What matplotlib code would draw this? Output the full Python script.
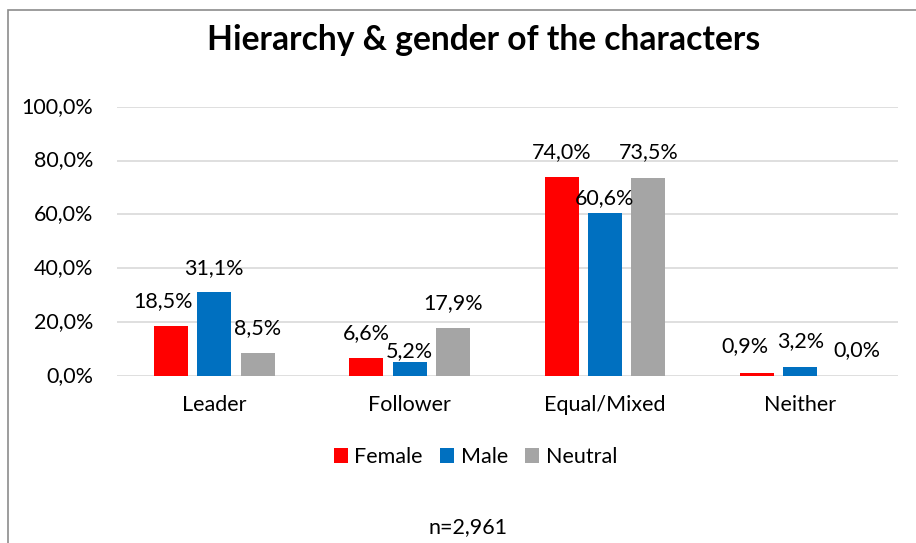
import matplotlib
matplotlib.use("Agg")
import matplotlib.pyplot as plt
import numpy as np
from matplotlib.patches import Rectangle, Patch

categories = ["Leader", "Follower", "Equal/Mixed", "Neither"]
series_names = ["Female", "Male", "Neutral"]
female = [18.5, 6.6, 74.0, 0.9]
male = [31.1, 5.2, 60.6, 3.2]
neutral = [8.5, 17.9, 73.5, 0.0]
yticks = [0, 20, 40, 60, 80, 100]
title = "Hierarchy & gender of the characters"
note = "n=2,961"

colors = ["#FF0000", "#0070C0", "#A5A5A5"]
# label offsets (pixels) from the top-centre of each bar
label_offsets = [
    [(-8, 24.5), (0, 24.5), (0, 24.5), (-12, 27)],
    [(-1, 24), (0, 11), (0, 15), (0, 26)],
    [(0, 24.5), (0, 24.5), (0, 25.5), (13, 25.7)],
]

plt.rcParams['font.family'] = ['Lato', 'DejaVu Sans']
FS = 15.5

W, H = 916, 543
fig = plt.figure(figsize=(W / 100, H / 100), dpi=100)
fig.patch.set_facecolor("white")

left_px, right_px, top_px, bot_px = 116.7, 898, 106.7, 375.7
ax = fig.add_axes([left_px / W, 1 - bot_px / H, (right_px - left_px) / W, (bot_px - top_px) / H])
ax.set_xlim(-0.5, 3.5)
ax.set_ylim(0, 100)
for s in ax.spines.values():
    s.set_visible(False)
ax.set_xticks([])
ax.set_yticks([])
ax.patch.set_alpha(0)

for t in yticks:
    ax.axhline(t, color="#D9D9D9", lw=1.2, zorder=0)
    ax.annotate(f"{t:.1f}%".replace(".", ","), xy=(0, t), xycoords=("axes fraction", "data"),
                xytext=(-23.5, 0), textcoords="offset pixels", ha="right", va="center",
                fontsize=FS, color="#000000")

x = np.arange(len(categories))
width = 0.174
step = 0.2225
all_series = [female, male, neutral]
for k, (vals, col, name) in enumerate(zip(all_series, colors, series_names)):
    xs = x + (k - 1) * step
    ax.bar(xs, vals, width=width, color=col, zorder=2, label=name)
    for i, (xx, v) in enumerate(zip(xs, vals)):
        dx, dy = label_offsets[k][i]
        ax.annotate(f"{v:.1f}%".replace(".", ","), xy=(xx, v), xycoords="data",
                    xytext=(dx, dy), textcoords="offset pixels", ha="center", va="center",
                    fontsize=FS, color="#000000", zorder=3)

for i, c in enumerate(categories):
    ax.annotate(c, xy=(i, 0), xycoords=("data", "axes fraction"), xytext=(0, -29),
                textcoords="offset pixels", ha="center", va="center", fontsize=FS, color="#000000")

fig.text(483.5 / W, 1 - 40 / H, title, ha="center", va="center", fontsize=24.2,
         fontweight="bold", color="#000000")

handles = [Patch(facecolor=c, edgecolor="none", label=n) for c, n in zip(colors, series_names)]
fig.legend(handles=handles, loc="center", bbox_to_anchor=(475.5 / W, 1 - 457 / H), ncol=3,
           frameon=False, fontsize=FS, handlelength=0.65, handleheight=0.65,
           handletextpad=0.3, columnspacing=0.8)

fig.text(467.6 / W, 1 - 527 / H, note, ha="center", va="center", fontsize=FS, color="#000000")

border = Rectangle((7.5 / W, -0.2), 2, 1.2 - 9.5 / H, transform=fig.transFigure,
                   fill=False, edgecolor="#8C8C8C", lw=1.2)
fig.patches.append(border)

fig.savefig("out.png", dpi=100, facecolor="white")
